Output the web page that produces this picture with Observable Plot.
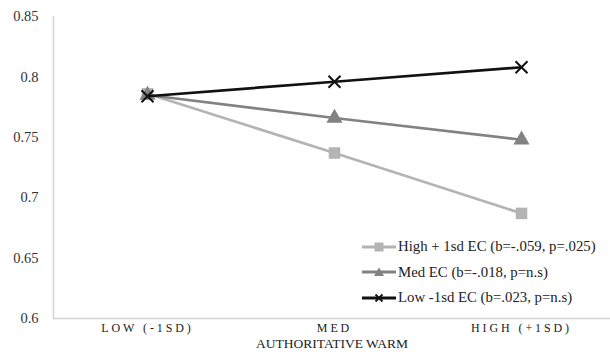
<!DOCTYPE html>
<html><head><meta charset="utf-8">
<script src="https://cdn.jsdelivr.net/npm/d3@7"></script>
<script src="https://cdn.jsdelivr.net/npm/@observablehq/plot@0.6"></script>
<style>
body{margin:0;background:#fff;}
#wrap{position:relative;width:610px;height:357px;font-family:"Liberation Serif","Times New Roman",serif;}
#legend{position:absolute;left:362px;top:234px;font-size:14.8px;color:#222;}
.row{display:flex;align-items:center;height:25.5px;}
.row svg{margin-right:2px;}
.xax text{letter-spacing:2.9px;}
</style></head><body><div id="wrap"><div id="chart"></div><div id="legend"></div></div>
<script>
const categories = ["LOW (-1SD)", "MED", "HIGH (+1SD)"];
const seriesNames = ["High + 1sd EC (b=-.059, p=.025)", "Med EC (b=-.018, p=n.s)", "Low -1sd EC (b=.023, p=n.s)"];
const highEC = [0.786, 0.737, 0.687];
const medEC = [0.785, 0.766, 0.748];
const lowEC = [0.784, 0.796, 0.808];
const yTicks = [0.6, 0.65, 0.7, 0.75, 0.8, 0.85];
const axisTitle = "AUTHORITATIVE WARM";

const colors = ["#b4b4b4", "#828282", "#111111"];
const symbols = ["square", "triangle", "times"];

const seriesValues = [highEC, medEC, lowEC];
const data = [];
seriesValues.forEach((vals, si) => vals.forEach((v, ci) => data.push({series: seriesNames[si], cat: categories[ci], value: v})));

const font = '"Liberation Serif","Times New Roman",serif';
const marks = [
  Plot.ruleY([0.6], {stroke: "#d4d4d4", strokeWidth: 1.5}),
  Plot.frame({anchor: "left", stroke: "#d4d4d4", strokeWidth: 1.5}),
  Plot.axisY({ticks: yTicks, tickSize: 0, tickPadding: 15, tickFormat: d => String(+d.toFixed(2)), label: null, fontSize: 14.5, fill: "#333"}),
  Plot.axisX({tickSize: 0, tickPadding: 5, label: null, fontSize: 12, fill: "#222", className: "xax"}),
  Plot.text([axisTitle], {frameAnchor: "bottom", dy: 29, fontSize: 13.5, fill: "#222"})
];
[0, 1, 2].forEach(si => {
  const d = data.filter(r => r.series === seriesNames[si]);
  marks.push(Plot.line(d, {x: "cat", y: "value", stroke: colors[si], strokeWidth: 2.7}));
  if (symbols[si] === "times") {
    marks.push(Plot.dot(d, {x: "cat", y: "value", symbol: "times", stroke: colors[si], strokeWidth: 2, r: 5.5}));
  } else {
    marks.push(Plot.dot(d, {x: "cat", y: "value", symbol: symbols[si], fill: colors[si], r: si === 0 ? 6.5 : 6}));
  }
});

const chart = Plot.plot({
  width: 610, height: 357,
  marginLeft: 53, marginRight: 0, marginTop: 16, marginBottom: 39,
  style: {fontFamily: font, background: "#fff"},
  x: {type: "point", domain: categories, range: [147, 521], padding: 0},
  y: {domain: [0.6, 0.85]},
  marks
});
document.getElementById("chart").appendChild(chart);

const leg = document.getElementById("legend");
seriesNames.forEach((name, si) => {
  const row = document.createElement("div");
  row.className = "row";
  const sym = symbols[si];
  let marker;
  if (sym === "square") marker = `<rect x="12.5" y="2.5" width="9" height="9" fill="${colors[si]}"/>`;
  else if (sym === "triangle") marker = `<path d="M17,2.5 L22,11 L12,11 Z" fill="${colors[si]}"/>`;
  else marker = `<path d="M13.5,3.5 L20.5,10.5 M20.5,3.5 L13.5,10.5" stroke="${colors[si]}" stroke-width="1.8"/>`;
  row.innerHTML = `<svg width="34" height="14"><line x1="0" x2="34" y1="7" y2="7" stroke="${colors[si]}" stroke-width="3"/>${marker}</svg><span>${name}</span>`;
  leg.appendChild(row);
});
</script></body></html>
